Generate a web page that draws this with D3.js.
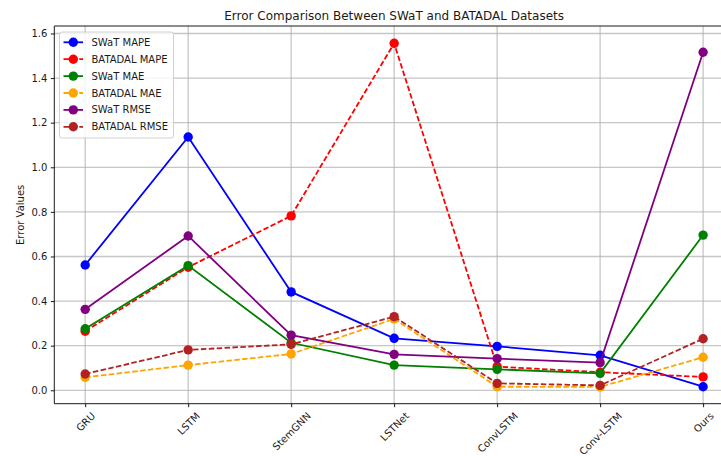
<!DOCTYPE html>
<html><head><meta charset="utf-8">
<script src="https://cdn.jsdelivr.net/npm/d3@7"></script>
<style>body{margin:0;background:#fff}svg{display:block;font-family:"DejaVu Sans",sans-serif}</style>
</head><body><svg id="c" width="721" height="456"></svg>
<script>
const categories = ["GRU","LSTM","StemGNN","LSTNet","ConvLSTM","Conv-LSTM","Ours"];
const swatMAPE    = [0.562, 1.136, 0.441, 0.233, 0.197, 0.157, 0.016];
const batadalMAPE = [0.265, 0.552, 0.782, 1.556, 0.106, 0.081, 0.060];
const swatMAE     = [0.276, 0.559, 0.213, 0.113, 0.094, 0.076, 0.696];
const batadalMAE  = [0.058, 0.113, 0.163, 0.320, 0.016, 0.015, 0.148];
const swatRMSE    = [0.363, 0.692, 0.247, 0.161, 0.142, 0.124, 1.516];
const batadalRMSE = [0.073, 0.181, 0.206, 0.330, 0.031, 0.022, 0.231];
const yTicks = [0.0, 0.2, 0.4, 0.6, 0.8, 1.0, 1.2, 1.4, 1.6];
const seriesNames = ["SWaT MAPE","BATADAL MAPE","SWaT MAE","BATADAL MAE","SWaT RMSE","BATADAL RMSE"];
const seriesValues = [swatMAPE, batadalMAPE, swatMAE, batadalMAE, swatRMSE, batadalRMSE];
const seriesColors = ["#0000ff","#ff0000","#008000","#ffa500","#800080","#b22222"];
const seriesDashed = [false,true,false,true,false,true];

const svg = d3.select("#c");
const L = 54.3, R = 734, T = 26, B = 403.7;
const x = d3.scaleLinear().domain([-0.3, 6.3]).range([L, R]);
const y = d3.scaleLinear().domain([-0.0602, 1.6336]).range([B, T]);

// grid
const g = svg.append("g");
g.selectAll(".gx").data(categories).join("line")
  .attr("x1",(d,i)=>x(i)).attr("x2",(d,i)=>x(i)).attr("y1",T).attr("y2",B)
  .attr("stroke","#b0b0b0").attr("stroke-width",1.3).attr("opacity",0.7);
g.selectAll(".gy").data(yTicks).join("line")
  .attr("x1",L).attr("x2",R).attr("y1",d=>y(d)).attr("y2",d=>y(d))
  .attr("stroke","#b0b0b0").attr("stroke-width",1.3).attr("opacity",0.7);

// axes
const yAxis = d3.axisLeft(y).tickValues(yTicks).tickFormat(d3.format(".1f")).tickSizeOuter(0).tickSize(3.5).tickPadding(3.5);
const ya = svg.append("g").attr("transform",`translate(${L},0)`).call(yAxis);
ya.select(".domain").remove();
ya.selectAll("line").attr("stroke","#000").attr("stroke-width",0.9);
ya.selectAll("text").attr("font-size",10).attr("fill","#1a1a1a").attr("font-family","DejaVu Sans");

const xAxis = d3.axisBottom(x).tickValues(d3.range(categories.length)).tickFormat(i=>categories[i]).tickSizeOuter(0).tickSize(3.5);
const xa = svg.append("g").attr("transform",`translate(0,${B})`).call(xAxis);
xa.select(".domain").remove();
xa.selectAll("line").attr("stroke","#000").attr("stroke-width",0.9);
xa.selectAll("text").attr("font-size",10).attr("fill","#1a1a1a").attr("font-family","DejaVu Sans")
  .attr("dy",null).attr("y",null)
  .each(function(){
    const t = d3.select(this);
    const w = this.getComputedTextLength();
    const s = Math.SQRT1_2;
    const h = (w + 10*0.95) * s;
    const cy = 3.5 + 3.5 + h/2;
    t.attr("text-anchor","middle").attr("dominant-baseline","central")
     .attr("transform",`translate(0,${cy}) rotate(-45)`);
  });

// spines
[[L,L,T,B],[L,R,B,B],[L,R,T,T],[R,R,T,B]].forEach(s=>{
  svg.append("line").attr("x1",s[0]).attr("x2",s[1]).attr("y1",s[2]).attr("y2",s[3])
    .attr("stroke","#000").attr("stroke-width",0.9);
});

// series
const line = d3.line().x((d,i)=>x(i)).y(d=>y(d));
seriesValues.forEach((vals,k)=>{
  const sg = svg.append("g");
  sg.append("path").attr("d",line(vals)).attr("fill","none")
    .attr("stroke",seriesColors[k]).attr("stroke-width",1.8)
    .attr("stroke-dasharray",seriesDashed[k]?"5.5,2.4":null);
  sg.selectAll("circle").data(vals).join("circle")
    .attr("cx",(d,i)=>x(i)).attr("cy",d=>y(d)).attr("r",4.7).attr("fill",seriesColors[k]);
});

// title
svg.append("text").attr("x",(L+R)/2).attr("y",20).attr("text-anchor","middle")
  .attr("font-size",12).attr("fill","#1a1a1a").text("Error Comparison Between SWaT and BATADAL Datasets");

// y label
svg.append("text").attr("transform",`translate(24,${(T+B)/2}) rotate(-90)`).attr("text-anchor","middle")
  .attr("font-size",10).attr("fill","#1a1a1a").text("Error Values");

// legend
const lg = svg.append("g");
lg.append("rect").attr("x",59.5).attr("y",32).attr("width",114).attr("height",106).attr("rx",2.5)
  .attr("fill","#fff").attr("fill-opacity",0.8).attr("stroke","#cccccc").attr("stroke-width",0.9);
seriesNames.forEach((n,k)=>{
  const yy = 42.3 + k*16.9;
  lg.append("line").attr("x1",63.5).attr("x2",83).attr("y1",yy).attr("y2",yy)
    .attr("stroke",seriesColors[k]).attr("stroke-width",1.8)
    .attr("stroke-dasharray",seriesDashed[k]?"5.5,2.4":null);
  lg.append("circle").attr("cx",73.3).attr("cy",yy).attr("r",4.7).attr("fill",seriesColors[k]);
  lg.append("text").attr("x",91.5).attr("y",yy).attr("dominant-baseline","central")
    .attr("font-size",10).attr("fill","#1a1a1a").text(n);
});
</script></body></html>
